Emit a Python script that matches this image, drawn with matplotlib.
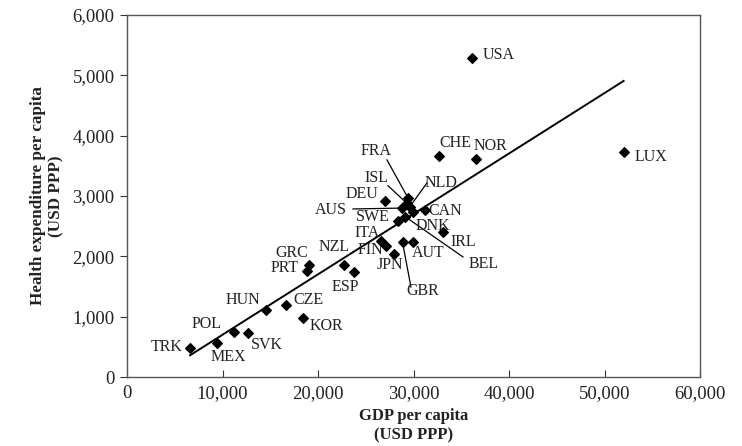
import numpy as np
from matplotlib import pyplot as plt
from matplotlib.ticker import FuncFormatter

# ------------------------- Data -------------------------

countries = ['TRK', 'MEX', 'POL', 'SVK', 'HUN', 'CZE', 'KOR', 'PRT', 'GRC',
             'NZL', 'ESP', 'ITA', 'FIN', 'JPN', 'GBR', 'AUT', 'SWE', 'BEL',
             'DNK', 'NLD', 'ISL', 'FRA', 'AUS', 'DEU', 'CAN', 'IRL', 'CHE',
             'NOR', 'USA', 'LUX']
gdp = [6600, 9400, 11200, 12650, 14550, 16600, 18400, 18800, 19100,
       22700, 23800, 26550, 27100, 28000, 28850, 29900, 28400, 29100,
       29900, 29600, 29300, 29450, 28800, 27050, 31200, 33100, 32650,
       36550, 36100, 52000]
health = [476, 570, 750, 723, 1110, 1195, 975, 1765, 1860,
          1860, 1745, 2260, 2170, 2040, 2230, 2245, 2580, 2660,
          2730, 2820, 2880, 2960, 2800, 2920, 2770, 2410, 3670,
          3615, 5295, 3735]

# label positions (data units)
label_x = [4190, 10570, 8380, 14660, 12150, 18950, 20840, 16540, 17280,
           21670, 22820, 25130, 25440, 27540, 30990, 31510, 25760, 37380,
           32040, 32880, 26100, 26070, 21360, 24600, 33290, 35180, 34340,
           38010, 37270, 53190]
label_y = [497, 332, 879, 531, 1277, 1277, 846, 1807, 2056,
           2155, 1492, 2390, 2105, 1857, 1426, 2056, 2655, 1874,
           2504, 3217, 3300, 3747, 2769, 3030, 2752, 2238, 3880,
           3830, 5340, 3648]
label_ha = ['center'] * 28 + ['left', 'left']

# leader lines: country -> label-side end
leaders = {'FRA': (27220, 3598), 'ISL': (27330, 3170), 'NLD': (31410, 3217),
           'AUS': (23660, 2785), 'BEL': (35180, 1990), 'GBR': (29730, 1492)}

x_ticks = [0, 10000, 20000, 30000, 40000, 50000, 60000]
y_ticks = [0, 1000, 2000, 3000, 4000, 5000, 6000]

# ------------------------- Plot -------------------------

plt.rcParams['font.family'] = ['Liberation Serif', 'DejaVu Serif']

fig = plt.figure(figsize=(7.42, 4.46), dpi=100)
ax = fig.add_axes([0.1712, 0.1547, 0.7722, 0.8117])

ax.scatter(gdp, health, marker='D', s=24, color='black', zorder=3)

# trend line (least squares)
slope, intercept = np.polyfit(gdp, health, 1)
fit_x = np.array([min(gdp), max(gdp)])
ax.plot(fit_x, slope * fit_x + intercept, color='black', lw=1.4, zorder=2)

for i, name in enumerate(countries):
    ax.text(label_x[i], label_y[i], name, ha=label_ha[i], va='center',
            fontsize=11.5, color='#222222', zorder=4)
    if name in leaders:
        lx, ly = leaders[name]
        ax.plot([lx, gdp[i]], [ly, health[i]], color='black', lw=0.9, zorder=2)

ax.set_xlim(0, 60000)
ax.set_ylim(0, 6000)
ax.set_xticks(x_ticks)
ax.set_yticks(y_ticks)
comma = FuncFormatter(lambda v, p: '{:,.0f}'.format(v))
ax.xaxis.set_major_formatter(comma)
ax.yaxis.set_major_formatter(comma)
ax.tick_params(axis='x', direction='in', length=5, labelsize=13.5, pad=6,
               colors='#333333', labelcolor='#222222')
ax.tick_params(axis='y', direction='out', length=5, labelsize=13.5, pad=4,
               colors='#333333', labelcolor='#222222')

for side in ax.spines.values():
    side.set_color('#555555')
    side.set_linewidth(1.0)

ax.set_xlabel('GDP per capita\n(USD PPP)', fontsize=12, fontweight='bold',
              color='#222222', labelpad=4, linespacing=1.25)
ax.set_ylabel('Health expenditure per capita\n(USD PPP)', fontsize=12.3,
              fontweight='bold', color='#222222', labelpad=6, linespacing=1.2)

fig.savefig('out.png', dpi=100)
